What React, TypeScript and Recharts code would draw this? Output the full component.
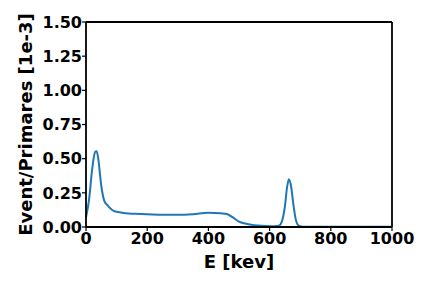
import React from 'react';
import { LineChart, Line, XAxis, YAxis, ReferenceLine } from 'recharts';

const energy = [0, 10, 20, 30, 35, 40, 50, 60, 70, 80, 90, 110, 130, 160, 200, 250, 300, 350, 400, 440, 460, 480, 500, 520, 550, 600, 630, 640, 650, 657, 663, 670, 678, 685, 695, 710, 800, 1000];
const counts = [0.07, 0.2, 0.42, 0.55, 0.555, 0.5, 0.3, 0.19, 0.16, 0.135, 0.118, 0.108, 0.1, 0.097, 0.094, 0.089, 0.089, 0.094, 0.104, 0.1, 0.095, 0.07, 0.04, 0.025, 0.012, 0.006, 0.01, 0.04, 0.15, 0.29, 0.35, 0.3, 0.16, 0.06, 0.01, 0.002, 0.001, 0.001];
const xTicks = [0, 200, 400, 600, 800, 1000];
const yTicks = [0, 0.25, 0.5, 0.75, 1.0, 1.25, 1.5];

const data = energy.map((e, i) => ({ e, v: counts[i] }));

const font = 'DejaVu Sans';
const tickStyle = { fontFamily: font, fontWeight: 'bold', fontSize: 16, fill: '#000' };

export default function App() {
  return (
    <div style={{ position: 'absolute', left: 0, top: 0 }}>
      <LineChart width={432} height={288} data={data} margin={{ top: 22, right: 40, bottom: 0, left: 0 }}>
        <XAxis
          xAxisId="b"
          dataKey="e"
          type="number"
          domain={[0, 1000]}
          ticks={xTicks}
          height={61}
          tickSize={4}
          tickLine={{ stroke: '#000', strokeWidth: 1.2 }}
          axisLine={{ stroke: '#000', strokeWidth: 1.8 }}
          tick={tickStyle}
          tickMargin={2}
          label={{ value: 'E [kev]', position: 'insideTop', offset: 28, style: { fontFamily: font, fontWeight: 'bold', fontSize: 18, fill: '#000' } }}
        />
        <YAxis
          yAxisId="l"
          type="number"
          domain={[0, 1.5]}
          ticks={yTicks}
          width={86}
          tickSize={4}
          tickLine={{ stroke: '#000', strokeWidth: 1.2 }}
          axisLine={{ stroke: '#000', strokeWidth: 1.8 }}
          tick={tickStyle}
          tickMargin={0}
          tickFormatter={(v: number) => v.toFixed(2)}
          label={{ value: 'Event/Primares [1e-3]', angle: -90, position: 'insideLeft', offset: 26, style: { fontFamily: font, fontWeight: 'bold', fontSize: 18, fill: '#000', textAnchor: 'middle' } }}
        />
        <ReferenceLine xAxisId="b" yAxisId="l" y={1.5} stroke="#000" strokeWidth={1.8} />
        <ReferenceLine xAxisId="b" yAxisId="l" x={1000} stroke="#000" strokeWidth={1.8} />
        <Line xAxisId="b" yAxisId="l" dataKey="v" type="monotone" stroke="#1f77b4" strokeWidth={2} dot={false} isAnimationActive={false} />
      </LineChart>
    </div>
  );
}
